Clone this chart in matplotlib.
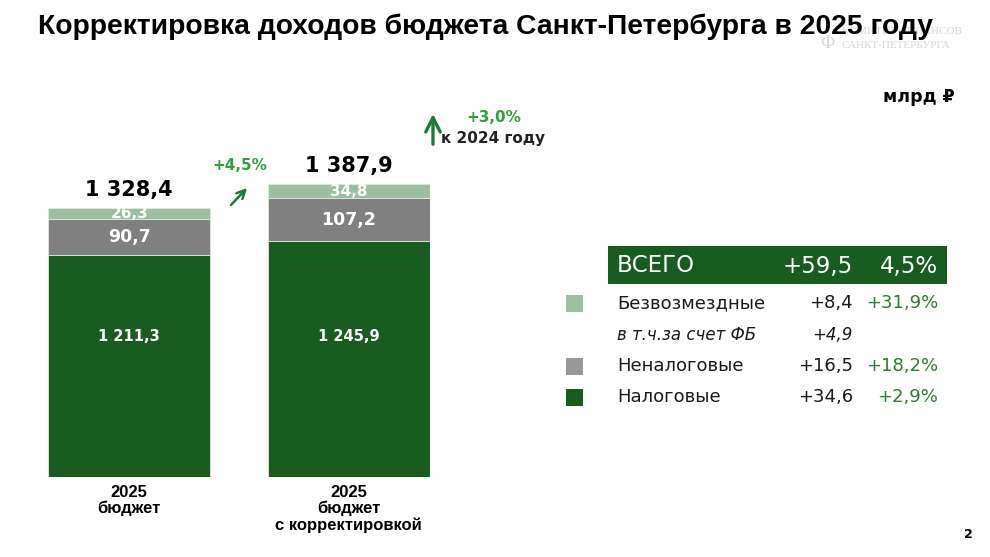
import matplotlib.pyplot as plt
from matplotlib.patches import Rectangle

plt.rcParams['font.family'] = ['DejaVu Sans']

# Данные
categories = ['2025\nбюджет', '2025\nбюджет\nс корректировкой']
tax = [1211.3, 1245.9]
nontax = [90.7, 107.2]
grants = [26.3, 34.8]
totals = [1328.4, 1387.9]

row_names = ['Безвозмездные', 'в т.ч.за счет ФБ', 'Неналоговые', 'Налоговые']
row_delta = ['+8,4', '+4,9', '+16,5', '+34,6']
row_pct = ['+31,9%', '', '+18,2%', '+2,9%']
total_delta = '+59,5'
total_pct = '4,5%'

c_tax = '#185c1f'
c_nontax = '#808080'
c_grants = '#9bbf9f'
c_green_txt = '#31a03c'
c_arrow = '#1e7a3c'


def fmt(v):
    return f'{v:,.1f}'.replace(',', ' ').replace('.', ',')


fig = plt.figure(figsize=(9.9, 5.57), dpi=100)

# Оверлей в пиксельных координатах для текстов
ov = fig.add_axes([0, 0, 1, 1])
ov.set_xlim(0, 990)
ov.set_ylim(557, 0)
ov.axis('off')

# Столбцы
ax = fig.add_axes([48 / 990, 80 / 557, 382 / 990, 354.2 / 557])
x = [0, 1]
w = 0.74
ax.bar(x, tax, w, color=c_tax, edgecolor='#dfe8df', linewidth=0.6)
ax.bar(x, nontax, w, bottom=tax, color=c_nontax, edgecolor='#dfe8df', linewidth=0.6)
bot2 = [a + b for a, b in zip(tax, nontax)]
ax.bar(x, grants, w, bottom=bot2, color=c_grants, edgecolor='#dfe8df', linewidth=0.6)
ax.set_xlim(-w / 2, 1 + w / 2)
ax.set_ylim(660, 1540)
ax.axis('off')

for i in x:
    ax.text(i, 1008, fmt(tax[i]), ha='center', va='center',
            color='white', fontsize=10.5, fontweight='bold')
    ax.text(i, tax[i] + nontax[i] / 2, fmt(nontax[i]), ha='center', va='center',
            color='white', fontsize=12.5, fontweight='bold')
    ax.text(i, bot2[i] + grants[i] / 2, fmt(grants[i]), ha='center', va='center',
            color='white', fontsize=11, fontweight='bold')
    ax.annotate(fmt(totals[i]), (i, totals[i]), xytext=(0, 6), textcoords='offset points',
                ha='center', va='bottom', fontsize=15, fontweight='bold', color='black')
    ax.annotate(categories[i], (i, 660), xytext=(0, -6), textcoords='offset points',
                ha='center', va='top', fontsize=12, fontweight='bold', color='black',
                linespacing=1.05, family=['Liberation Sans Narrow', 'Liberation Sans'],
                annotation_clip=False)

# Заголовок
ov.text(38, 27, 'Корректировка доходов бюджета Санкт-Петербурга в 2025 году',
        fontsize=20.3, fontweight='bold', va='center', ha='left',
        family=['Liberation Sans Narrow', 'Liberation Sans'])

# Водяной знак
ov.text(842, 32, 'КОМИТЕТ ФИНАНСОВ', fontsize=8, color='#d6d6d6',
        family='Liberation Serif', va='center', zorder=0)
ov.text(842, 46, 'САНКТ-ПЕТЕРБУРГА', fontsize=8, color='#d6d6d6',
        family='Liberation Serif', va='center', zorder=0)
ov.text(827, 43, 'Ф', fontsize=13, color='#d6d6d6', family='Liberation Serif',
        ha='center', va='center', zorder=0)

ov.text(955, 97, 'млрд ₽', fontsize=12.5, fontweight='bold', ha='right', va='center')

# Стрелки
ov.annotate('', xy=(249, 186), xytext=(229, 207),
            arrowprops=dict(arrowstyle='->', color=c_arrow, lw=1.8, mutation_scale=15))
ov.text(240, 166, '+4,5%', color=c_green_txt, fontsize=11, fontweight='bold',
        ha='center', va='center')
ov.annotate('', xy=(433, 111), xytext=(433, 147),
            arrowprops=dict(arrowstyle='->', color=c_arrow, lw=2.4, mutation_scale=26))
ov.text(494, 118, '+3,0%', color=c_green_txt, fontsize=11, fontweight='bold',
        ha='center', va='center')
ov.text(441, 139, 'к 2024 году', color='#222222', fontsize=11, fontweight='bold',
        ha='left', va='center')

# Таблица
ov.add_patch(Rectangle((608, 246), 339, 38, facecolor=c_tax, edgecolor='none'))
ov.text(617, 266, 'ВСЕГО', color='white', fontsize=16.5, va='center', ha='left')
ov.text(853, 266, total_delta, color='white', fontsize=16.5, va='center', ha='right')
ov.text(938, 266, total_pct, color='white', fontsize=16.5, va='center', ha='right')

row_y = [303, 335, 366, 397]
row_colors = [c_grants, None, '#999999', c_tax]
for name, d, p, yy, col in zip(row_names, row_delta, row_pct, row_y, row_colors):
    italic = col is None
    fs = 12 if italic else 13
    style = 'italic' if italic else 'normal'
    if col is not None:
        ov.add_patch(Rectangle((566, yy - 8.5), 17, 17, facecolor=col, edgecolor='none'))
    ov.text(617, yy, name, fontsize=fs, style=style, va='center', ha='left', color='#1a1a1a')
    ov.text(853, yy, d, fontsize=fs, style=style, va='center', ha='right', color='#1a1a1a')
    if p:
        ov.text(938, yy, p, fontsize=fs, va='center', ha='right', color='#2e7d32')

ov.text(968, 535, '2', fontsize=9, fontweight='bold', ha='center', va='center')

fig.savefig('out.png', dpi=100)
